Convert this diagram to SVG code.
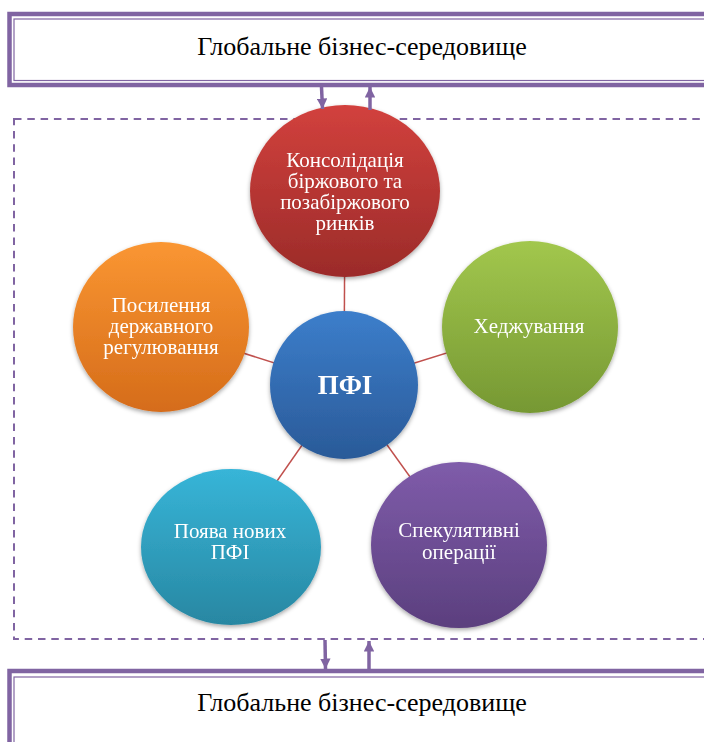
<svg xmlns="http://www.w3.org/2000/svg" width="704" height="742" viewBox="0 0 704 742">
<defs>
<style>
.frame{fill:#fff;stroke:#8064a2;stroke-width:4.5}
.inner{fill:none;stroke:#8064a2;stroke-width:1.2}
.env{font-family:"Liberation Serif","DejaVu Serif",serif;font-size:26px;fill:#000;text-anchor:middle}
.lbl{font-family:"Liberation Serif","DejaVu Serif",serif;font-size:21px;fill:#fff;text-anchor:middle}
.core{font-family:"Liberation Serif","DejaVu Serif",serif;font-size:27px;font-weight:bold;fill:#fff;text-anchor:middle}
.dash{fill:none;stroke:#8064a2;stroke-width:2;stroke-dasharray:7.5 5.8}
.arr{stroke:#8064a2;stroke-width:3.5;fill:none}
.link{stroke:#c0504d;stroke-width:1.5}
.node{filter:url(#sh)}
</style>
<filter id="sh" x="-20%" y="-20%" width="140%" height="140%">
<feDropShadow dx="0" dy="2" stdDeviation="2" flood-color="#000" flood-opacity="0.35"/>
</filter>
<marker id="ah" viewBox="0 0 10 10" refX="10" refY="5" markerWidth="3" markerHeight="3" orient="auto" markerUnits="strokeWidth">
<path d="M0,0 L10,5 L0,10 z" fill="#8064a2"/>
</marker>
<linearGradient id="gRed" x1="0" y1="0" x2="0" y2="1"><stop offset="0" stop-color="#d2413d"/><stop offset="1" stop-color="#9b2b29"/></linearGradient>
<linearGradient id="gBlue" x1="0" y1="0" x2="0" y2="1"><stop offset="0" stop-color="#3c7ecb"/><stop offset="1" stop-color="#2a5a98"/></linearGradient>
<linearGradient id="gOrange" x1="0" y1="0" x2="0" y2="1"><stop offset="0" stop-color="#fa9632"/><stop offset="1" stop-color="#d56c1a"/></linearGradient>
<linearGradient id="gGreen" x1="0" y1="0" x2="0" y2="1"><stop offset="0" stop-color="#a2c74d"/><stop offset="1" stop-color="#769833"/></linearGradient>
<linearGradient id="gTeal" x1="0" y1="0" x2="0" y2="1"><stop offset="0" stop-color="#37b5d8"/><stop offset="1" stop-color="#2887a2"/></linearGradient>
<linearGradient id="gPurple" x1="0" y1="0" x2="0" y2="1"><stop offset="0" stop-color="#7f5caa"/><stop offset="1" stop-color="#5b3f7e"/></linearGradient>
</defs>
<rect width="704" height="742" fill="#fff"/>

<g id="env-top">
<rect class="frame" x="9.5" y="14" width="720" height="71"/>
<rect class="inner" x="14" y="19" width="720" height="61.5"/>
<text class="env" x="362" y="55">Глобальне бізнес-середовище</text>
</g>
<g id="env-bottom">
<rect class="frame" x="9.5" y="671" width="720" height="100"/>
<rect class="inner" x="14" y="677" width="720" height="90"/>
<text class="env" x="362" y="711">Глобальне бізнес-середовище</text>
</g>
<g id="boundary">
<rect class="dash" x="14" y="119" width="720" height="520"/>
</g>

<g id="links">
<line class="link" x1="344" y1="385" x2="345" y2="191"/>
<line class="link" x1="344" y1="385" x2="161" y2="327"/>
<line class="link" x1="344" y1="385" x2="530" y2="327"/>
<line class="link" x1="344" y1="385" x2="231" y2="547"/>
<line class="link" x1="344" y1="385" x2="459" y2="545"/>
</g>

<g id="n-consolidation" class="node">
<ellipse cx="345" cy="191" rx="95" ry="86" fill="url(#gRed)"/>
<text class="lbl" x="345" y="167">Консолідація</text>
<text class="lbl" x="345" y="188">біржового та</text>
<text class="lbl" x="345" y="209">позабіржового</text>
<text class="lbl" x="345" y="230">ринків</text>
</g>
<g id="n-regulation" class="node">
<ellipse cx="161" cy="327" rx="88" ry="85" fill="url(#gOrange)"/>
<text class="lbl" x="161" y="312">Посилення</text>
<text class="lbl" x="161" y="333">державного</text>
<text class="lbl" x="161" y="354">регулювання</text>
</g>
<g id="n-hedging" class="node">
<ellipse cx="530" cy="327" rx="88" ry="86" fill="url(#gGreen)"/>
<text class="lbl" x="529" y="333">Хеджування</text>
</g>
<g id="n-new" class="node">
<ellipse cx="231" cy="547" rx="90" ry="78" fill="url(#gTeal)"/>
<text class="lbl" x="230" y="538">Поява нових</text>
<text class="lbl" x="230" y="559">ПФІ</text>
</g>
<g id="n-speculative" class="node">
<ellipse cx="459" cy="545" rx="88" ry="83" fill="url(#gPurple)"/>
<text class="lbl" x="459" y="537">Спекулятивні</text>
<text class="lbl" x="459" y="559">операції</text>
</g>
<g id="n-pfi" class="node">
<ellipse cx="344" cy="385" rx="74" ry="74" fill="url(#gBlue)"/>
<text class="core" x="345" y="394">ПФІ</text>
</g>

<g id="connectors">
<line class="arr" x1="321.5" y1="87" x2="322.5" y2="109" marker-end="url(#ah)"/>
<line class="arr" x1="370" y1="110" x2="370" y2="87" marker-end="url(#ah)"/>
<line class="arr" x1="325" y1="640" x2="325.5" y2="669" marker-end="url(#ah)"/>
<line class="arr" x1="369" y1="669" x2="369" y2="641" marker-end="url(#ah)"/>
</g>
</svg>
